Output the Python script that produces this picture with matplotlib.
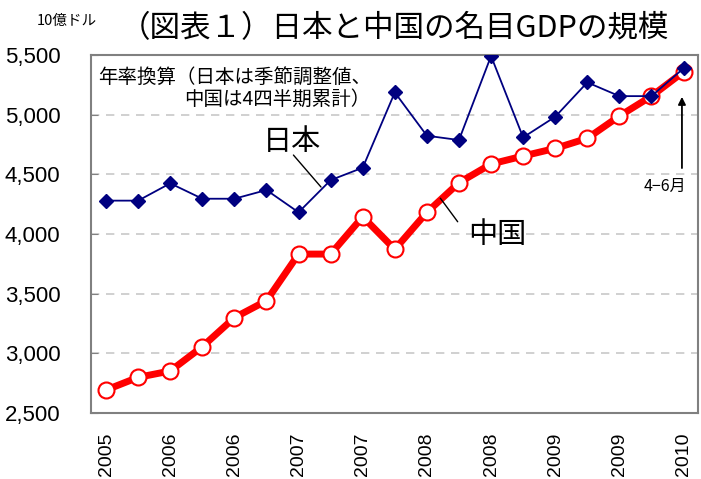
import matplotlib
matplotlib.use("Agg")
import matplotlib.pyplot as plt
from matplotlib.ticker import FuncFormatter

# quarterly nominal GDP, annualised (billion USD), 2005Q4 .. 2010Q2
japan = [4280, 4280, 4425, 4296, 4296, 4369, 4182, 4452, 4556, 5187,
         4824, 4788, 5492, 4810, 4983, 5271, 5156, 5156, 5389]
china = [2693, 2799, 2852, 3056, 3299, 3441, 3832, 3832, 4145, 3872,
         4182, 4430, 4587, 4654, 4718, 4802, 4989, 5156, 5360]
year_labels = ["2005", "2006", "2006", "2007", "2007",
               "2008", "2008", "2009", "2009", "2010"]
y_ticks = [2500, 3000, 3500, 4000, 4500, 5000, 5500]

jp = ["Noto Sans CJK JP", "DejaVu Sans"]
num_font = "Liberation Sans"

fig = plt.figure(figsize=(7.01, 4.79), dpi=100)
ax = fig.add_axes([0.1298, 0.1378, 0.8659, 0.7472])

x = list(range(len(japan)))
ax.plot(x, china, color="#ff0000", lw=5, marker="o", ms=11.5,
        mfc="white", mec="#ff0000", mew=1.5, zorder=3)
ax.plot(x, japan, color="#000080", lw=1.3, marker="D", ms=7,
        mfc="#000080", mec="#000080", zorder=4)

ax.set_xlim(-0.47, 18.45)
ax.set_ylim(2500, 5500)
ax.set_yticks(y_ticks)
ax.yaxis.set_major_formatter(FuncFormatter(lambda v, p: f"{int(v):,}"))
ax.set_xticks(x[::2])
ax.set_xticklabels(year_labels, rotation=90, fontsize=14, family=num_font)
for lab in ax.get_yticklabels():
    lab.set_family(num_font)
    lab.set_fontsize(16)
ax.tick_params(axis="y", direction="in", length=5, color="#808080", pad=22)
ax.tick_params(axis="x", length=0, pad=14)

for v in y_ticks[1:-1]:
    ax.axhline(v, color="#c8c8c8", lw=1.2, ls=(0, (5, 4)), zorder=1)
for s in ax.spines.values():
    s.set_color("#808080")
    s.set_linewidth(1.5)

fig.text(0.563, 0.940, "（図表１）日本と中国の名目GDPの規模", ha="center",
         va="center", fontsize=22, family=jp)
fig.text(0.096, 0.956, "10億ドル", ha="center", va="center", fontsize=10.5,
         family=jp)

ax.text(0.011, 0.968, "年率換算（日本は季節調整値、\n中国は4四半期累計）",
        transform=ax.transAxes, ha="left", va="top", multialignment="right",
        fontsize=14, family=jp, linespacing=1.1)

# series labels with leader lines
ax.text(5.8, 4770, "日本", fontsize=21, family=jp, ha="center", va="center")
ax.annotate("", xy=(6.7, 4394), xytext=(5.84, 4662),
            arrowprops=dict(arrowstyle="-", color="black", lw=1,
                            shrinkA=0, shrinkB=0))
ax.text(12.2, 3990, "中国", fontsize=21, family=jp, ha="center", va="center")
ax.annotate("", xy=(10.42, 4300), xytext=(10.96, 4103),
            arrowprops=dict(arrowstyle="-", color="black", lw=1,
                            shrinkA=0, shrinkB=0))
ax.text(17.42, 4400, "4−6月", fontsize=11.5, family=jp, ha="center",
        va="center")
ax.annotate("", xy=(17.95, 5150), xytext=(17.95, 4553),
            arrowprops=dict(arrowstyle="-|>", color="black", lw=1.3,
                            mutation_scale=11, shrinkA=0, shrinkB=0))

fig.savefig("out.png", dpi=100)
